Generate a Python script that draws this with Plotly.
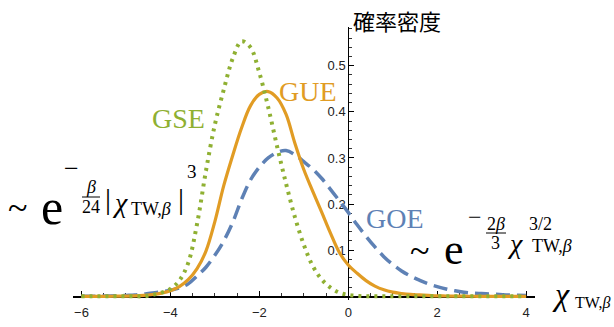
import plotly.graph_objects as go

# ---------------- data ----------------
x_vals = [-6.0, -5.8, -5.6, -5.4, -5.2, -5.0, -4.8, -4.6, -4.4, -4.2,
          -4.0, -3.8, -3.6, -3.4, -3.2, -3.0, -2.8, -2.6, -2.4, -2.2,
          -2.0, -1.8, -1.6, -1.4, -1.2, -1.0, -0.8, -0.6, -0.4, -0.2,
          0.0, 0.2, 0.4, 0.6, 0.8, 1.0, 1.2, 1.4, 1.6, 1.8,
          2.0, 2.2, 2.4, 2.6, 2.8, 3.0, 3.2, 3.4, 3.6, 3.8, 4.0]

goe = [0.0, 0.0, 0.0003, 0.0006, 0.001, 0.002, 0.003, 0.005, 0.007, 0.010,
       0.013, 0.018, 0.027, 0.044, 0.063, 0.089, 0.120, 0.160, 0.210, 0.252,
       0.280, 0.300, 0.312, 0.316, 0.307, 0.292, 0.276, 0.256, 0.232, 0.207,
       0.182, 0.155, 0.130, 0.107, 0.086, 0.069, 0.055, 0.044, 0.035, 0.027,
       0.021, 0.016, 0.012, 0.009, 0.007, 0.006, 0.005, 0.004, 0.003, 0.0025, 0.002]

gue = [0.0, 0.0, 0.0, 0.0, 0.0002, 0.0005, 0.001, 0.002, 0.004, 0.007,
       0.012, 0.021, 0.036, 0.060, 0.098, 0.162, 0.240, 0.305, 0.365, 0.413,
       0.438, 0.444, 0.430, 0.395, 0.332, 0.275, 0.228, 0.183, 0.137, 0.095,
       0.068, 0.050, 0.034, 0.022, 0.014, 0.009, 0.006, 0.004, 0.003, 0.002,
       0.001, 0.0007, 0.0004, 0.0002, 0.0001, 0.0, 0.0, 0.0, 0.0, 0.0, 0.0]

gse = [0.0, 0.0, 0.0, 0.0, 0.0, 0.0, 0.0, 0.0, 0.003, 0.008,
       0.016, 0.034, 0.072, 0.157, 0.272, 0.372, 0.448, 0.515, 0.553, 0.540,
       0.485, 0.410, 0.325, 0.245, 0.172, 0.112, 0.066, 0.037, 0.019, 0.008,
       0.003, 0.001, 0.0, 0.0, 0.0, 0.0, 0.0, 0.0, 0.0, 0.0,
       0.0, 0.0, 0.0, 0.0, 0.0, 0.0, 0.0, 0.0, 0.0, 0.0, 0.0]

series_names = ["GOE", "GUE", "GSE"]
x_tick_vals = [-6, -4, -2, 0, 2, 4]
y_tick_vals = [0.1, 0.2, 0.3, 0.4, 0.5]
y_tick_text = ["0.1", "0.2", "0.3", "0.4", "0.5"]
y_title = "確率密度"

# ---------------- styling ----------------
BLUE = "#5E81B5"
ORANGE = "#E19C24"
GREEN = "#8FB032"

W, H = 614, 327
ML, MR, MT, MB = 73, 79, 27, 27
XR = [-6.19, 4.2]
YR = [-0.008, 0.584]
PW = W - ML - MR
PH = H - MT - MB


def px(xp):
    return (xp - ML) / PW


def py(yp):
    return (H - MB - yp) / PH


fig = go.Figure()
fig.add_trace(go.Scatter(x=x_vals, y=goe, mode="lines", name=series_names[0],
                         line=dict(color=BLUE, width=3.5, dash="14px,7px", shape="spline")))
fig.add_trace(go.Scatter(x=x_vals, y=gue, mode="lines", name=series_names[1],
                         line=dict(color=ORANGE, width=3.2, shape="spline")))
fig.add_trace(go.Scatter(x=x_vals, y=gse, mode="lines", name=series_names[2],
                         line=dict(color=GREEN, width=4, dash="3px,5px", shape="spline")))

serif = "Liberation Serif, Times New Roman, serif"
ann = []


def T(text, xp, yp, size, color="black", fam=serif):
    ann.append(dict(text=text, x=px(xp), y=py(yp), xref="paper", yref="paper",
                    xanchor="center", yanchor="middle", showarrow=False,
                    font=dict(family=fam, size=size, color=color)))


# series labels
T("GSE", 178, 118, 28, GREEN)
T("GUE", 308, 91, 28, ORANGE)
T("GOE", 395, 218, 28, BLUE)

# title of the y axis
T(y_title, 397, 20, 22, "black", "Noto Sans CJK JP")

# x-axis label
T("<i>χ</i>", 561, 294, 32)
T("TW,<i>β</i>", 592, 303, 16)

# left formula  ~ e^{-β/24 |χ_TW,β|^3}
T("~", 17, 208, 36)
T("e", 52, 207, 50)
T("−", 71, 169, 26)
T("<i>β</i>", 91, 187, 18)
T("24", 91, 207, 18)
T("|", 108, 198, 30)
T("<i>χ</i>", 120, 203, 28)
T("TW,<i>β</i>", 151, 209, 18)
T("|", 181, 198, 30)
T("3", 192, 171, 19)

# right formula  ~ e^{-2β/3 χ^{3/2}_TW,β}
T("~", 419, 251, 36)
T("e", 454, 249, 44)
T("−", 475, 217, 24)
T("2<i>β</i>", 496, 224, 18)
T("3", 495, 243, 18)
T("<i>χ</i>", 515, 243, 28)
T("3/2", 540, 224, 18)
T("TW,<i>β</i>", 552, 246, 18)

shapes = [
    dict(type="line", xref="paper", yref="paper", x0=px(82), x1=px(100), y0=py(197), y1=py(197),
         line=dict(color="black", width=1)),
    dict(type="line", xref="paper", yref="paper", x0=px(486), x1=px(506), y0=py(233), y1=py(233),
         line=dict(color="black", width=1)),
]

tickfont = dict(family="Liberation Sans, Arial, sans-serif", size=13, color="#222")

fig.update_layout(
    template="none",
    width=W, height=H, autosize=False,
    margin=dict(l=ML, r=MR, t=MT, b=MB, pad=0),
    paper_bgcolor="white", plot_bgcolor="white",
    showlegend=False, hovermode=False,
    annotations=ann, shapes=shapes,
    xaxis=dict(range=XR, anchor="free", position=(0 - YR[0]) / (YR[1] - YR[0]),
               automargin=False,
               showgrid=False, zeroline=False, showline=True, linecolor="black", linewidth=1.2,
               tickmode="array", tickvals=x_tick_vals, ticks="inside", ticklen=5,
               tickcolor="black", tickwidth=1, tickfont=tickfont, ticklabelstandoff=4,
               minor=dict(tickmode="linear", tick0=0, dtick=0.5, ticks="inside", ticklen=3.5,
                          tickcolor="black", tickwidth=0.8, showgrid=False),
               layer="below traces"),
    yaxis=dict(range=YR, anchor="free", position=(0 - XR[0]) / (XR[1] - XR[0]),
               automargin=False,
               showgrid=False, zeroline=False, showline=True, linecolor="black", linewidth=1.2,
               tickmode="array", tickvals=y_tick_vals, ticktext=y_tick_text,
               ticks="inside", ticklen=5, tickcolor="black", tickwidth=1, tickfont=tickfont,
               ticklabelstandoff=0,
               minor=dict(tickmode="linear", tick0=0, dtick=0.02, ticks="inside", ticklen=3,
                          tickcolor="black", tickwidth=0.8, showgrid=False),
               layer="below traces"),
)

fig.write_html("out.html", config={"displayModeBar": False, "staticPlot": True},
               post_script="document.body.style.margin='0px';document.body.style.overflow='hidden';")
